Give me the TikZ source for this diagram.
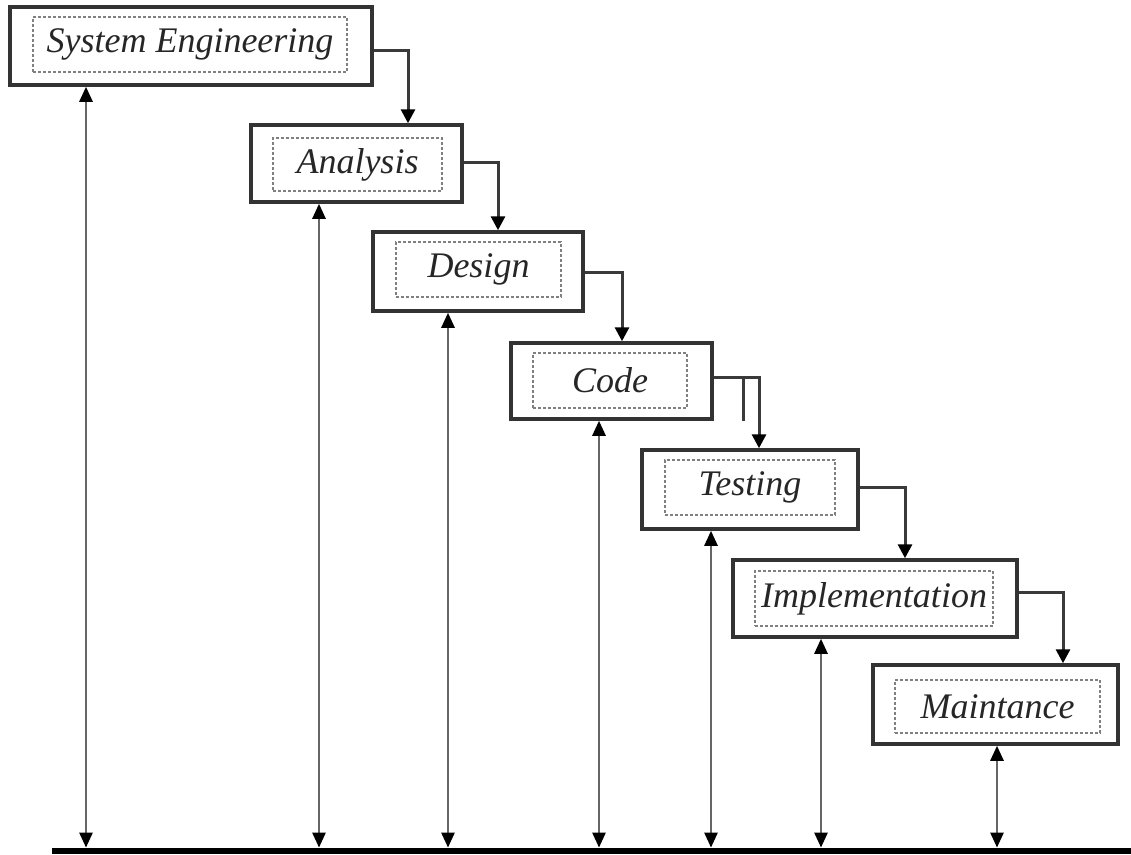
\documentclass[tikz,border=0pt]{standalone}
\usepackage{fontspec}
\setmainfont{Liberation Serif}
\newfontfamily\boxfont{Liberation Serif}
\usetikzlibrary{arrows.meta}
\definecolor{boxline}{HTML}{333333}
\definecolor{dashline}{HTML}{808080}
\definecolor{flowline}{HTML}{3A3A3A}
\definecolor{vline}{HTML}{666666}
\definecolor{txt}{HTML}{262626}
\tikzset{
  outerbox/.style={draw=boxline, line width=3.5pt, fill=white, inner sep=0pt},
  innerbox/.style={draw=dashline, line width=1.6pt, dash pattern=on 3pt off 2pt, inner sep=0pt,
    font=\boxfont\fontsize{36}{40}\selectfont\itshape, text=txt},
  flow/.style={draw=flowline, line width=3pt, -{Triangle[length=14pt,width=14pt,color=black]}},
  plainflow/.style={draw=flowline, line width=3pt},
  updown/.style={draw=vline, line width=2.6pt, {Triangle[length=15pt,width=13pt,color=black]}-{Triangle[length=15pt,width=13pt,color=black]}},
}
\begin{document}
\begin{tikzpicture}[x=1pt,y=-1pt]
\useasboundingbox[fill=white] (0,0) rectangle (1131,854);

% outer boxes
\node[outerbox, minimum width=362pt, minimum height=78pt] (se) at (191,46) {};
\node[outerbox, minimum width=211pt, minimum height=77pt] (an) at (356.5,163.5) {};
\node[outerbox, minimum width=210pt, minimum height=79pt] (de) at (478,271.5) {};
\node[outerbox, minimum width=201pt, minimum height=76pt] (co) at (611.5,381) {};
\node[outerbox, minimum width=216pt, minimum height=79pt] (te) at (750,489.5) {};
\node[outerbox, minimum width=284pt, minimum height=77pt] (im) at (875,598.5) {};
\node[outerbox, minimum width=245pt, minimum height=79pt] (ma) at (995.5,704.5) {};

% inner dashed boxes with labels
\node[innerbox, minimum width=314pt, minimum height=55pt] (sei) at (190,44.5) {System Engineering};
\node[innerbox, minimum width=169pt, minimum height=53pt] (ani) at (357.5,164.5) {Analysis};
\node[innerbox, minimum width=165pt, minimum height=55pt] (dei) at (478.5,269.5) {Design};
\node[innerbox, minimum width=154pt, minimum height=55pt] (coi) at (610,380.5) {Code};
\node[innerbox, minimum width=170pt, minimum height=55pt] (tei) at (750,487.5) {Testing};
\node[innerbox, minimum width=238pt, minimum height=55pt] (imi) at (874,598.5) {Implementation};
\node[innerbox, minimum width=205pt, minimum height=53pt] (mai) at (997.5,706.5) {Maintance};

% bottom base line
\node[fill=black, minimum width=1079pt, minimum height=6pt, inner sep=0pt, anchor=south west] (base) at (52,854) {};

% turn points of the flow connectors
\coordinate (k1) at (408,50);
\coordinate (k2) at (498,162);
\coordinate (k3) at (622,272);
\coordinate (k4) at (759,377);
\coordinate (k4b) at (743,377);
\coordinate (k4e) at (743,421);
\coordinate (k5) at (905,487);
\coordinate (k6) at (1063,592);

\draw[flow] (se.east |- k1) -- (k1) -- (k1 |- an.north);
\draw[flow] (an.east |- k2) -- (k2) -- (k2 |- de.north);
\draw[flow] (de.east |- k3) -- (k3) -- (k3 |- co.north);
\draw[flow] (co.east |- k4) -- (k4) -- (k4 |- te.north);
\draw[plainflow] (k4b) -- (k4e);
\draw[flow] (te.east |- k5) -- (k5) -- (k5 |- im.north);
\draw[flow] (im.east |- k6) -- (k6) -- (k6 |- ma.north);

% vertical double arrows
\coordinate (a1) at (86,0);
\coordinate (a2) at (319,0);
\coordinate (a3) at (448,0);
\coordinate (a4) at (599,0);
\coordinate (a5) at (711,0);
\coordinate (a6) at (821,0);
\coordinate (a7) at (997,0);
\draw[updown] (a1 |- base.north) -- (a1 |- se.south);
\draw[updown] (a2 |- base.north) -- (a2 |- an.south);
\draw[updown] (a3 |- base.north) -- (a3 |- de.south);
\draw[updown] (a4 |- base.north) -- (a4 |- co.south);
\draw[updown] (a5 |- base.north) -- (a5 |- te.south);
\draw[updown] (a6 |- base.north) -- (a6 |- im.south);
\draw[updown] (a7 |- base.north) -- (a7 |- ma.south);
\end{tikzpicture}
\end{document}
